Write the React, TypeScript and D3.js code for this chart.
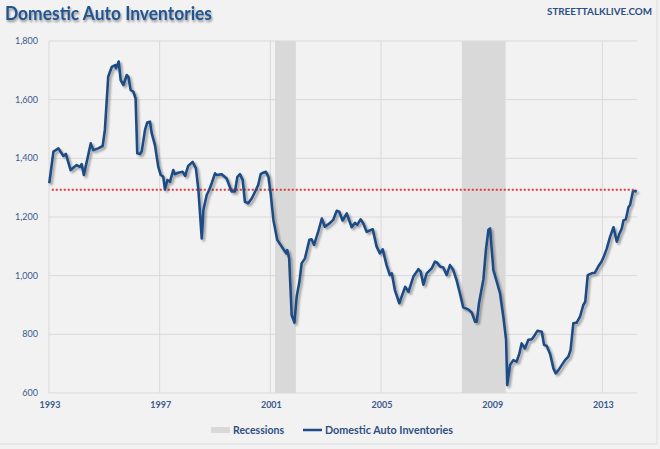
import React from "react";
import * as d3 from "d3";

const years: number[] = [
  1993.01, 1993.16, 1993.34, 1993.52, 1993.61, 1993.78, 1994.0, 1994.12, 1994.18, 1994.26,
  1994.51, 1994.6, 1994.78, 1994.94, 1995.02, 1995.14, 1995.27, 1995.39, 1995.42, 1995.52,
  1995.59, 1995.69, 1995.81, 1995.87, 1995.95, 1996.05, 1996.13, 1996.19, 1996.29, 1996.35,
  1996.47, 1996.55, 1996.65, 1996.71, 1996.83, 1996.95, 1997.04, 1997.13, 1997.19, 1997.28,
  1997.37, 1997.49, 1997.55, 1997.67, 1997.83, 1997.92, 1998.03, 1998.19, 1998.31, 1998.4,
  1998.52, 1998.58, 1998.7, 1998.79, 1998.88, 1999.0, 1999.06, 1999.24, 1999.42, 1999.6,
  1999.72, 1999.81, 1999.9, 2000.0, 2000.08, 2000.2, 2000.33, 2000.45, 2000.56, 2000.65,
  2000.74, 2000.84, 2000.93, 2001.01, 2001.11, 2001.25, 2001.41, 2001.57, 2001.61, 2001.68,
  2001.77, 2001.87, 2001.95, 2002.05, 2002.13, 2002.25, 2002.41, 2002.49, 2002.58, 2002.73,
  2002.86, 2002.97, 2003.16, 2003.27, 2003.4, 2003.49, 2003.61, 2003.76, 2003.94, 2004.06,
  2004.14, 2004.26, 2004.36, 2004.48, 2004.7, 2004.84, 2004.96, 2005.06, 2005.2, 2005.32,
  2005.39, 2005.5, 2005.66, 2005.87, 2005.99, 2006.17, 2006.35, 2006.43, 2006.53, 2006.65,
  2006.83, 2006.95, 2007.03, 2007.13, 2007.25, 2007.37, 2007.49, 2007.61, 2007.73, 2007.85,
  2007.97, 2008.15, 2008.28, 2008.4, 2008.46, 2008.54, 2008.7, 2008.79, 2008.88, 2008.94,
  2009.06, 2009.2, 2009.3, 2009.42, 2009.52, 2009.56, 2009.66, 2009.78, 2009.9, 2010.0,
  2010.08, 2010.2, 2010.32, 2010.45, 2010.56, 2010.65, 2010.81, 2010.89, 2010.99, 2011.11,
  2011.23, 2011.31, 2011.41, 2011.53, 2011.65, 2011.77, 2011.85, 2011.95, 2012.07, 2012.19,
  2012.31, 2012.38, 2012.47, 2012.61, 2012.73, 2012.85, 2012.97, 2013.06, 2013.16, 2013.28,
  2013.4, 2013.52, 2013.62, 2013.7, 2013.76, 2013.85, 2013.94, 2014.0, 2014.1, 2014.18,
  2014.24,
];

const inventories: number[] = [
  1315, 1423, 1434, 1408, 1415, 1360, 1377, 1371, 1380, 1343,
  1451, 1428, 1434, 1442, 1497, 1678, 1712, 1718, 1707, 1730,
  1667, 1650, 1684, 1678, 1633, 1627, 1604, 1417, 1415, 1423,
  1497, 1522, 1525, 1486, 1445, 1371, 1343, 1337, 1294, 1326,
  1320, 1360, 1346, 1351, 1354, 1340, 1374, 1388, 1366, 1292,
  1127, 1224, 1275, 1292, 1315, 1349, 1343, 1346, 1331, 1287,
  1287, 1337, 1346, 1326, 1252, 1247, 1264, 1287, 1309, 1346,
  1351, 1354, 1337, 1281, 1190, 1122, 1099, 1076, 1087, 1059,
  866, 840, 928, 979, 1042, 1059, 1122, 1124, 1105, 1150,
  1195, 1167, 1180, 1190, 1221, 1218, 1188, 1212, 1165, 1180,
  1173, 1192, 1178, 1150, 1158, 1099, 1076, 1090, 1036, 1002,
  1008, 951, 906, 962, 945, 997, 1022, 1014, 969, 1008,
  1025, 1048, 1044, 1031, 1028, 1002, 1036, 1019, 985, 940,
  892, 885, 874, 843, 843, 906, 988, 1087, 1156, 1161,
  1019, 974, 940, 860, 781, 627, 695, 712, 707, 735,
  769, 752, 781, 783, 798, 812, 809, 764, 760, 733,
  684, 667, 678, 695, 712, 724, 747, 838, 840, 860,
  900, 911, 1002, 1008, 1010, 1031, 1048, 1067, 1093, 1133,
  1165, 1116, 1144, 1161, 1188, 1192, 1233, 1241, 1286, 1289,
  1286,
];

const recessionStarts: number[] = [2001.17, 2007.92];
const recessionEnds: number[] = [2001.92, 2009.5];
const referenceLevel = 1293;
const xTicks: number[] = [1993, 1997, 2001, 2005, 2009, 2013];
const yTicks: number[] = [600, 800, 1000, 1200, 1400, 1600, 1800];

const W = 660;
const H = 449;
const left = 49;
const right = 637;
const top = 41;
const bottom = 393;

export default function App() {
  const x = d3.scaleLinear().domain([1993, 2014.25]).range([left, right]);
  const y = d3.scaleLinear().domain([600, 1800]).range([bottom, top]);
  const pts: [number, number][] = years.map((t, i) => [t, inventories[i]]);
  const line = d3
    .line<[number, number]>()
    .x((d) => x(d[0]))
    .y((d) => y(d[1]));
  const fmt = d3.format(",");
  const tickColor = "#3a5a8c";
  const font = "Lato, 'Open Sans', sans-serif";

  return (
    <svg
      width={W}
      height={H}
      style={{ position: "absolute", left: 0, top: 0, background: "#f2f2f2" }}
      fontFamily={font}
    >
      <defs>
        <filter id="shadow" x="-5%" y="-5%" width="110%" height="115%">
          <feGaussianBlur in="SourceAlpha" stdDeviation="1.3" />
          <feOffset dx="1.5" dy="2" result="ob" />
          <feComponentTransfer>
            <feFuncA type="linear" slope="0.35" />
          </feComponentTransfer>
          <feMerge>
            <feMergeNode />
            <feMergeNode in="SourceGraphic" />
          </feMerge>
        </filter>
        <filter id="tshadow" x="-5%" y="-20%" width="110%" height="160%">
          <feGaussianBlur in="SourceAlpha" stdDeviation="1.2" />
          <feOffset dx="1" dy="2" />
          <feComponentTransfer>
            <feFuncA type="linear" slope="0.4" />
          </feComponentTransfer>
          <feMerge>
            <feMergeNode />
            <feMergeNode in="SourceGraphic" />
          </feMerge>
        </filter>
      </defs>
      <rect x={0} y={0} width={W} height={H} fill="#f2f2f2" />
      <line x1={657} x2={657} y1={0} y2={444} stroke="#dcdcdc" />
      <line x1={0} x2={657} y1={444} y2={444} stroke="#dcdcdc" />

      {/* gridlines */}
      {yTicks.map((v) => (
        <line key={"gy" + v} x1={left} x2={right} y1={y(v)} y2={y(v)} stroke="#d9d9d9" strokeWidth={1} />
      ))}
      {xTicks.map((t) => (
        <line key={"gx" + t} x1={x(t)} x2={x(t)} y1={top} y2={bottom} stroke="#d9d9d9" strokeWidth={1} />
      ))}

      {/* recessions */}
      {recessionStarts.map((s, i) => (
        <rect
          key={"r" + i}
          x={x(s)}
          y={top}
          width={x(recessionEnds[i]) - x(s)}
          height={bottom - top}
          fill="#d9d9d9"
        />
      ))}

      {/* tick labels */}
      {yTicks.map((v) => (
        <text key={"ty" + v} x={38} y={y(v) + 3} textAnchor="end" fontSize={9} fill={tickColor}>
          {fmt(v)}
        </text>
      ))}
      {xTicks.map((t) => (
        <text key={"tx" + t} x={x(t) + 1} y={408} textAnchor="middle" fontSize={9} fontWeight="bold" fill={tickColor}>
          {t}
        </text>
      ))}

      {/* reference level */}
      <line
        x1={x(1993.1)}
        x2={x(2014.22)}
        y1={y(referenceLevel)}
        y2={y(referenceLevel)}
        stroke="#e0393e"
        strokeWidth={2}
        strokeDasharray="2,2"
      />

      {/* series */}
      <path d={line(pts) || ""} fill="none" stroke="#1f4b85" strokeWidth={2.6} strokeLinejoin="round" filter="url(#shadow)" />

      {/* title */}
      <text x={5} y={20} fontSize={18} fontWeight="bold" fill="#24548f" textLength={207} lengthAdjust="spacingAndGlyphs" filter="url(#tshadow)">
        Domestic Auto Inventories
      </text>
      <text x={547} y={15} fontSize={10} fontWeight="bold" fill="#2b4f81" textLength={105} lengthAdjust="spacingAndGlyphs">
        STREETTALKLIVE.COM
      </text>

      {/* legend */}
      <rect x={211} y={427} width={19} height={6} fill="#d9d9d9" />
      <text x={233} y={434} fontSize={10.5} fontWeight="bold" fill="#2e4f82" textLength={51} lengthAdjust="spacingAndGlyphs">
        Recessions
      </text>
      <line x1={303} x2={322} y1={430} y2={430} stroke="#1f4b85" strokeWidth={2.5} />
      <text x={325} y={434} fontSize={10.5} fontWeight="bold" fill="#2e4f82" textLength={128} lengthAdjust="spacingAndGlyphs">
        Domestic Auto Inventories
      </text>
    </svg>
  );
}
